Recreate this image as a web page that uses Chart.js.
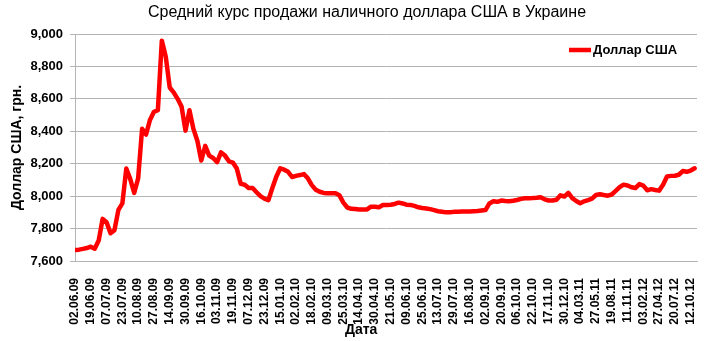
<!DOCTYPE html>
<html>
<head>
<meta charset="utf-8">
<script src="https://cdn.jsdelivr.net/npm/chart.js@4/dist/chart.umd.min.js"></script>
<style>
  html, body { margin: 0; padding: 0; background: #fff; }
  #wrap { width: 706px; height: 341px; position: relative; }
</style>
</head>
<body>
<div id="wrap"><canvas id="rateChart"></canvas></div>
<script>
// Подписи оси X (каждая 4-я точка ряда)
const DATES = ['02.06.09','19.06.09','07.07.09','23.07.09','10.08.09','27.08.09','14.09.09','30.09.09',
  '16.10.09','03.11.09','19.11.09','07.12.09','23.12.09','15.01.10','02.02.10','18.02.10','09.03.10',
  '25.03.10','14.04.10','30.04.10','21.05.10','09.06.10','25.06.10','13.07.10','29.07.10','16.08.10',
  '02.09.10','20.09.10','06.10.10','22.10.10','17.11.10','30.12.10','04.03.11','27.05.11','19.08.11',
  '11.11.11','03.02.12','27.04.12','20.07.12','12.10.12'];

const POINTS_PER_LABEL = 4;

// Курс, грн. за 1 доллар
const RATE = [
  7668, 7670, 7675, 7680, 7688, 7676, 7726, 7860, 7839, 7771,
  7790, 7915, 7955, 8170, 8105, 8020, 8110, 8415, 8380, 8470,
  8520, 8530, 8959, 8860, 8670, 8640, 8600, 8552, 8404, 8530,
  8415, 8342, 8220, 8310, 8250, 8235, 8210, 8270, 8250, 8215,
  8207, 8170, 8076, 8070, 8050, 8050, 8024, 8000, 7985, 7975,
  8050, 8120, 8172, 8163, 8150, 8118, 8125, 8130, 8136, 8110,
  8068, 8040, 8027, 8020, 8018, 8018, 8018, 8005, 7960, 7930,
  7922, 7920, 7918, 7918, 7918, 7935, 7935, 7931, 7945, 7946,
  7947, 7952, 7960, 7955, 7947, 7946, 7940, 7931, 7927, 7924,
  7920, 7914, 7907, 7904, 7900, 7901, 7903, 7904, 7905, 7905,
  7906, 7907, 7908, 7911, 7914, 7955, 7968, 7965, 7973, 7970,
  7969, 7972, 7976, 7983, 7987, 7987, 7988, 7990, 7993, 7980,
  7973, 7973, 7978, 8005, 7998, 8020, 7988, 7970, 7956, 7968,
  7976, 7985, 8007, 8012, 8007, 8003, 8010, 8032, 8055, 8071,
  8066, 8055, 8050, 8074, 8065, 8036, 8043, 8038, 8034, 8070,
  8121, 8125, 8126, 8132, 8155, 8150, 8158, 8172
];

const TITLE = 'Средний курс продажи наличного доллара США в Украине';
const X_TITLE = 'Дата';
const Y_TITLE = 'Доллар США, грн.';

const FONT = 'Liberation Sans, Arial, sans-serif';
const GRID = '#b4b4b4';
const RED  = '#ff0000';

Chart.defaults.font.family = FONT;
Chart.defaults.color = '#000';

// Заголовок, подпись оси X и легенда внутри области графика (как в Excel)
const excelDecor = {
  id: 'excelDecor',
  afterDraw(chart) {
    const { ctx, chartArea: a } = chart;
    const ds = chart.data.datasets[0];
    ctx.save();
    ctx.fillStyle = '#000';
    ctx.textBaseline = 'middle';

    ctx.textAlign = 'center';
    ctx.font = `16px ${FONT}`;
    ctx.fillText(TITLE, 367, 13);

    ctx.font = `bold 14px ${FONT}`;
    ctx.fillText(X_TITLE, a.left + (a.right - a.left) * 0.46, 330);

    // легенда
    const ly = a.top + 16;
    const lx = a.right - 128;
    ctx.strokeStyle = ds.borderColor;
    ctx.lineWidth = ds.borderWidth;
    ctx.beginPath();
    ctx.moveTo(lx, ly);
    ctx.lineTo(lx + 22, ly);
    ctx.stroke();
    ctx.textAlign = 'left';
    ctx.font = `bold 13px ${FONT}`;
    ctx.fillText(ds.label, lx + 24, ly);
    ctx.restore();
  },
};

new Chart(document.getElementById('rateChart'), {
  type: 'line',
  data: {
    datasets: [{
      label: 'Доллар США',
      data: RATE.map((v, i) => ({ x: i / POINTS_PER_LABEL, y: v })),
      borderColor: RED,
      backgroundColor: RED,
      borderWidth: 4.5,
      borderJoinStyle: 'round',
      borderCapStyle: 'round',
      pointRadius: 0,
      tension: 0,
    }],
  },
  plugins: [excelDecor],
  options: {
    responsive: true,
    maintainAspectRatio: false,
    animation: false,
    layout: { padding: { top: 34, right: 9 } },
    plugins: {
      legend: { display: false },
      tooltip: { enabled: false },
    },
    scales: {
      x: {
        type: 'linear',
        min: 0,
        max: 39.4,
        afterFit: s => { s.height = 80; s.paddingLeft = 0; s.paddingRight = 0; },
        grid: { display: false },
        border: { color: GRID, width: 1 },
        ticks: {
          stepSize: 1,
          autoSkip: false,
          includeBounds: false,
          maxRotation: 90,
          minRotation: 90,
          padding: 9,
          font: { size: 12, weight: 'bold' },
          callback: v => DATES[v] ?? '',
        },
      },
      y: {
        min: 7600,
        max: 9000,
        afterFit: s => { s.width = 75; },
        grid: { color: GRID, tickLength: 5 },
        border: { color: GRID, width: 1 },
        ticks: {
          stepSize: 200,
          padding: 7,
          font: { size: 13, weight: 'bold' },
          callback: v => v.toLocaleString('en-US'),
        },
        title: {
          display: true,
          text: Y_TITLE,
          font: { size: 14, weight: 'bold' },
          padding: { top: 9, bottom: 0 },
        },
      },
    },
  },
});
</script>
</body>
</html>
